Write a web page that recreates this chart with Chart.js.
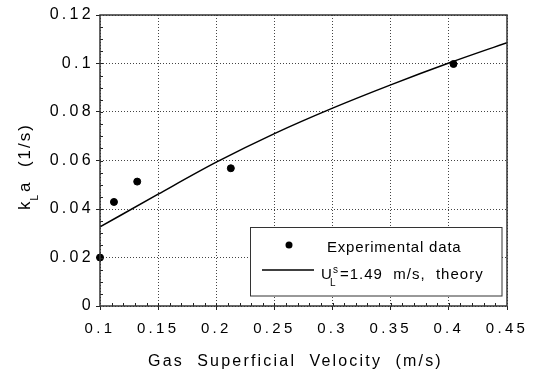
<!DOCTYPE html>
<html>
<head>
<meta charset="utf-8">
<script src="https://cdn.jsdelivr.net/npm/chart.js@4.4.1/dist/chart.umd.min.js"></script>
<style>
  html, body { margin: 0; padding: 0; background: #fff; }
  #wrap { width: 534px; height: 376px; }
</style>
</head>
<body>
<div id="wrap"><canvas id="myChart" width="534" height="376"></canvas></div>
<script>
// measured points
const expVelocity = [0.1, 0.112, 0.132, 0.2125, 0.404];
const expKla = [0.020, 0.0429, 0.0513, 0.0568, 0.0998];

// theory curve, U_L^s = 1.49 m/s
const theoryVelocity = [0.1, 0.15, 0.2, 0.25, 0.3, 0.35, 0.4, 0.45];
const theoryKla = [0.0326, 0.0461, 0.0593, 0.0711, 0.0816, 0.0912, 0.1002, 0.1086];

const xTickValues = [0.1, 0.15, 0.2, 0.25, 0.3, 0.35, 0.4, 0.45];
const xTickLabels = ['0.1', '0.15', '0.2', '0.25', '0.3', '0.35', '0.4', '0.45'];
const yTickValues = [0, 0.02, 0.04, 0.06, 0.08, 0.1, 0.12];
const yTickLabels = ['0', '0.02', '0.04', '0.06', '0.08', '0.1', '0.12'];

const FONT = '"Liberation Sans", Arial, Helvetica, sans-serif';

const decorations = {
    id: 'decorations',
    beforeDraw(chart) {
        chart.ctx.letterSpacing = '3.3px';
    },
    afterDraw(chart) {
        const ctx = chart.ctx;
        const { left, right, top, bottom } = chart.chartArea;
        const xs = chart.scales.x;
        const ys = chart.scales.y;
        ctx.save();
        ctx.letterSpacing = '0px';

        // minor ticks, pointing inward
        ctx.strokeStyle = '#222';
        ctx.lineWidth = 1;
        ctx.beginPath();
        for (let i = 1; i < 35; i++) {
            const px = Math.round(xs.getPixelForValue(0.1 + i * 0.01)) + 0.5;
            ctx.moveTo(px, bottom);
            ctx.lineTo(px, bottom - 3);
        }
        for (let i = 1; i < 24; i++) {
            const py = Math.round(ys.getPixelForValue(i * 0.005)) + 0.5;
            ctx.moveTo(left, py);
            ctx.lineTo(left + 3, py);
        }
        ctx.stroke();

        // frame
        ctx.lineWidth = 1.5;
        ctx.strokeStyle = '#333';
        ctx.strokeRect(left, top, right - left, bottom - top);

        // x title
        ctx.fillStyle = '#000';
        ctx.textBaseline = 'alphabetic';
        ctx.textAlign = 'left';
        ctx.font = '16px ' + FONT;
        ctx.letterSpacing = '2.2px';
        ctx.fillText('Gas  Superficial  Velocity  (m/s)', 148, 366);

        // y title with subscript
        ctx.save();
        ctx.translate(30, 210);
        ctx.rotate(-Math.PI / 2);
        let u = 0;
        ctx.font = '17px ' + FONT;
        ctx.letterSpacing = '2px';
        ctx.fillText('k', u, 0);
        u += ctx.measureText('k').width;
        ctx.font = '10px ' + FONT;
        ctx.letterSpacing = '1px';
        ctx.fillText('L', u - 1, 8);
        u += ctx.measureText('L').width + 1;
        ctx.font = '17px ' + FONT;
        ctx.letterSpacing = '2px';
        ctx.fillText('a  (1/s)', u, 0);
        ctx.restore();

        // legend box
        ctx.fillStyle = '#fff';
        ctx.fillRect(250.5, 227.5, 251.5, 68.5);
        ctx.lineWidth = 1;
        ctx.strokeStyle = '#333';
        ctx.strokeRect(250.5, 227.5, 251.5, 68.5);

        ctx.fillStyle = '#000';
        ctx.beginPath();
        ctx.arc(289, 245, 3.5, 0, Math.PI * 2);
        ctx.fill();

        ctx.lineWidth = 1.5;
        ctx.strokeStyle = '#000';
        ctx.beginPath();
        ctx.moveTo(262, 270);
        ctx.lineTo(314, 270);
        ctx.stroke();

        ctx.font = '15px ' + FONT;
        ctx.letterSpacing = '0.8px';
        ctx.fillText('Experimental data', 327, 251.5);

        ctx.letterSpacing = '1px';
        ctx.fillText('U', 321, 278.5);
        ctx.font = '10px ' + FONT;
        ctx.fillText('L', 330, 285.5);
        ctx.fillText('s', 333, 273);
        ctx.font = '15px ' + FONT;
        ctx.fillText('=1.49  m/s,  theory', 340, 278.5);

        ctx.restore();
    }
};

const ctx = document.getElementById('myChart').getContext('2d');
const myChart = new Chart(ctx, {
    type: 'scatter',
    data: {
        datasets: [{
                label: 'Experimental data',
                data: expVelocity.map((v, i) => ({ x: v, y: expKla[i] })),
                backgroundColor: '#000',
                borderColor: '#000',
                pointRadius: 3.5,
                pointHoverRadius: 3.5,
                clip: false
            },
            {
                label: 'theory',
                data: theoryVelocity.map((v, i) => ({ x: v, y: theoryKla[i] })),
                showLine: true,
                borderColor: '#000',
                borderWidth: 1.5,
                pointRadius: 0,
                cubicInterpolationMode: 'monotone',
                fill: false
            }
        ]
    },
    options: {
        responsive: false,
        animation: false,
        devicePixelRatio: 1,
        layout: { padding: { left: 0, right: 27, top: 15, bottom: 0 } },
        plugins: {
            legend: { display: false },
            tooltip: { enabled: false }
        },
        scales: {
            x: {
                type: 'linear',
                min: 0.1,
                max: 0.45,
                afterBuildTicks: (scale) => { scale.ticks = xTickValues.map(v => ({ value: v })); },
                afterFit: (scale) => { scale.height = 70; },
                grid: {
                    color: '#444',
                    lineWidth: 1,
                    drawTicks: true,
                    tickLength: 4,
                    tickColor: '#222',
                    tickBorderDash: []
                },
                border: { display: false, dash: [1, 2] },
                ticks: {
                    padding: 10,
                    color: '#000',
                    font: { family: FONT, size: 15 },
                    maxRotation: 0,
                    autoSkip: false,
                    callback: (v, i) => xTickLabels[i]
                }
            },
            y: {
                type: 'linear',
                min: 0,
                max: 0.12,
                afterBuildTicks: (scale) => { scale.ticks = yTickValues.map(v => ({ value: v })); },
                afterFit: (scale) => { scale.width = 100; },
                grid: {
                    color: '#444',
                    lineWidth: 1,
                    drawTicks: true,
                    tickLength: 4,
                    tickColor: '#222',
                    tickBorderDash: []
                },
                border: { display: false, dash: [1, 2] },
                ticks: {
                    padding: 2,
                    color: '#000',
                    font: { family: FONT, size: 16 },
                    autoSkip: false,
                    callback: (v, i) => yTickLabels[i]
                }
            }
        }
    },
    plugins: [decorations]
});
</script>
</body>
</html>
